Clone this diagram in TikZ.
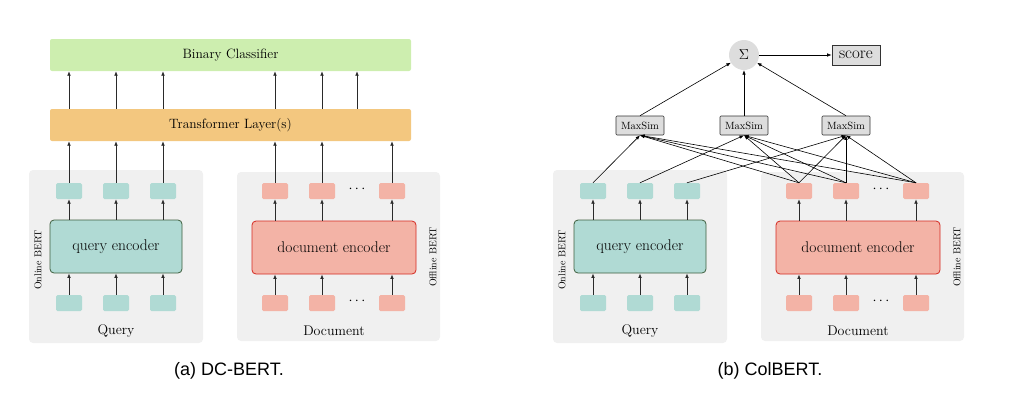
\documentclass[tikz,border=0pt]{standalone}
\usepackage{fontspec}
\newfontfamily\capfont{Liberation Sans}
\usetikzlibrary{arrows.meta}
\definecolor{clsgreen}{HTML}{CDEEAF}
\definecolor{trorange}{HTML}{F3C77F}
\definecolor{panelgray}{HTML}{F0F0F0}
\definecolor{qteal}{HTML}{B0DAD4}
\definecolor{qborder}{HTML}{3E5F3E}
\definecolor{dsalmon}{HTML}{F3B3A6}
\definecolor{dborder}{HTML}{D42A22}
\definecolor{boxgray}{HTML}{DDDDDD}
\definecolor{arrowgray}{HTML}{2A2A2A}
\tikzset{
 fs/.style={font=\fontsize{#1}{#1}\selectfont},
 panelbox/.style={fill=panelgray, rounded corners=4pt, inner sep=0pt},
 qtok/.style={fill=qteal, rounded corners=1.5pt, minimum width=26pt, minimum height=16pt, inner sep=0pt},
 dtok/.style={qtok, fill=dsalmon},
 qencbox/.style={draw=qborder, line width=0.8pt, fill=qteal, rounded corners=4pt, minimum width=132pt, minimum height=53pt, inner sep=0pt, fs=15.5},
 dencbox/.style={draw=dborder, line width=0.8pt, fill=dsalmon, rounded corners=4pt, minimum width=164pt, minimum height=53pt, inner sep=0pt, fs=15.5},
 arrowup/.style={draw=arrowgray, line width=0.85pt, -{Latex[length=4.5pt,width=3.8pt]}},
 thinarr/.style={draw=black, line width=0.6pt, -{Latex[length=4.5pt,width=3.5pt]}},
 widebox/.style={rounded corners=2pt, minimum width=361pt, minimum height=32pt, inner sep=0pt, fs=13.5},
 panellbl/.style={inner sep=0pt, fs=14},
 sidelbl/.style={inner sep=0pt, fs=10, rotate=90},
 dotslbl/.style={inner sep=0pt, fs=15},
 msim/.style={draw=black!80, line width=0.6pt, fill=boxgray, rounded corners=1pt, minimum width=48pt, minimum height=19pt, inner sep=0pt, fs=10.5},
 captxt/.style={inner sep=0pt, font=\capfont\fontsize{18}{18}\selectfont},
}
\newcommand\bertpanel[2]{%
 \node[panelbox, minimum width=174pt, minimum height=173pt] (#1qpanel) at ({#2+116},256.5) {};
 \node[panelbox, minimum width=203pt, minimum height=169pt] (#1dpanel) at ({#2+338.5},256.5) {};
 \node[qtok] (#1qt1) at ({#2+69},191) {};
 \node[qtok] (#1qt2) at ({#2+116},191) {};
 \node[qtok] (#1qt3) at ({#2+163},191) {};
 \node[qencbox] (#1qenc) at ({#2+116},246.5) {query encoder};
 \node[qtok] (#1qb1) at ({#2+69},303) {};
 \node[qtok] (#1qb2) at ({#2+116},303) {};
 \node[qtok] (#1qb3) at ({#2+163},303) {};
 \node[panellbl] (#1qlbl) at ({#2+116},331) {Query};
 \node[sidelbl] (#1online) at ({#2+38},260) {Online BERT};
 \node[dtok] (#1dt1) at ({#2+275},191) {};
 \node[dtok] (#1dt2) at ({#2+322},191) {};
 \node[dotslbl] (#1dtdots) at ({#2+357},189) {$\cdots$};
 \node[dtok] (#1dt3) at ({#2+392},191) {};
 \node[dencbox] (#1denc) at ({#2+334},247.5) {document encoder};
 \node[dtok] (#1db1) at ({#2+275},303) {};
 \node[dtok] (#1db2) at ({#2+322},303) {};
 \node[dotslbl] (#1dbdots) at ({#2+357},301) {$\cdots$};
 \node[dtok] (#1db3) at ({#2+392},303) {};
 \node[panellbl] (#1dlbl) at ({#2+334},331) {Document};
 \node[sidelbl] (#1offline) at ({#2+433},257) {Offline BERT};
 \foreach \t in {qt1,qt2,qt3} \draw[arrowup] (#1qenc.north -| #1\t) -- (#1\t.south);
 \foreach \t in {qb1,qb2,qb3} \draw[arrowup] (#1\t.north) -- (#1qenc.south -| #1\t);
 \foreach \t in {dt1,dt2,dt3} \draw[arrowup] (#1denc.north -| #1\t) -- (#1\t.south);
 \foreach \t in {db1,db2,db3} \draw[arrowup] (#1\t.north) -- (#1denc.south -| #1\t);
}
\begin{document}
\begin{tikzpicture}[x=1pt,y=-1pt]
\useasboundingbox (0,0) rectangle (1023,413);
% ---------- (a) DC-BERT ----------
\bertpanel{L}{0}
\node[widebox, fill=trorange] (trans) at (230.5,125) {Transformer Layer(s)};
\node[widebox, fill=clsgreen] (clsf) at (230.5,55) {Binary Classifier};
\foreach \t in {Lqt1,Lqt2,Lqt3,Ldt1,Ldt2,Ldt3} \draw[arrowup] (\t.north) -- (trans.south -| \t);
\foreach \t in {Lqt1,Lqt2,Lqt3,Ldt1,Ldt2,Ldtdots} \draw[arrowup] (trans.north -| \t) -- (clsf.south -| \t);
\node[captxt] (capa) at (229,371) {(a) DC-BERT.};
% ---------- (b) ColBERT ----------
\bertpanel{R}{524}
\node[circle, fill=boxgray, minimum size=30pt, inner sep=0pt, fs=15] (sigma) at (744,55) {$\Sigma$};
\node[draw=black!80, line width=0.7pt, fill=boxgray, minimum width=48pt, minimum height=20pt, inner sep=0pt, fs=17] (score) at (856,55) {score};
\draw[thinarr] (sigma) -- (score);
\node[msim] (m1) at (640,125.5) {MaxSim};
\node[msim] (m2) at (744,125.5) {MaxSim};
\node[msim] (m3) at (846,125.5) {MaxSim};
\foreach \m in {m1,m2,m3} \draw[thinarr] (\m.north) -- (sigma);
\draw[thinarr] (Rqt1.north) -- (m1.south);
\draw[thinarr] (Rqt2.north) -- (m2.south);
\draw[thinarr] (Rqt3.north) -- (m3.south);
\foreach \d in {Rdt1,Rdt2,Rdt3} \foreach \m in {m1,m2,m3} \draw[thinarr] (\d.north) -- (\m.south);
\node[captxt] (capb) at (770,371) {(b) ColBERT.};
\end{tikzpicture}
\end{document}
